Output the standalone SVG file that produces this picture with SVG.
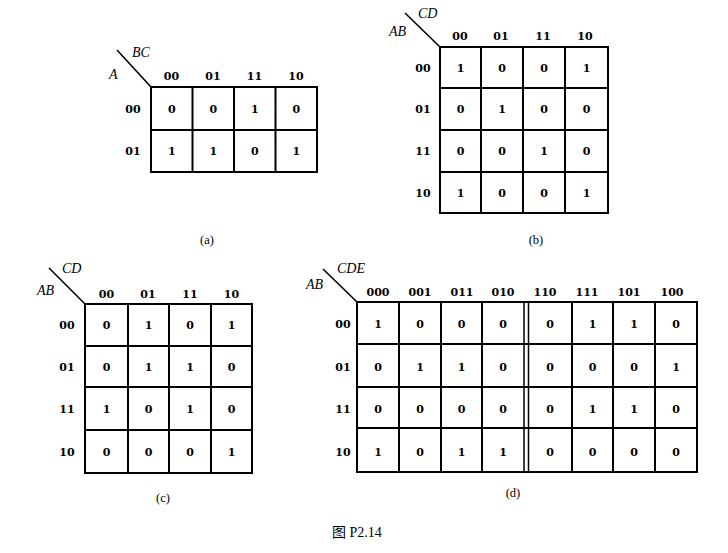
<svg xmlns="http://www.w3.org/2000/svg" width="728" height="553" viewBox="0 0 728 553">
<style>
.bg{fill:#fff}
.g{fill:none;stroke:#000;stroke-width:2}
.d{stroke:#000;stroke-width:1.6}
.dl{stroke:#000;stroke-width:1.5}
.v{font-family:"DejaVu Serif",serif;font-weight:bold;font-size:11px;text-anchor:middle;fill:#000}
.h{font-family:"DejaVu Serif",serif;font-weight:bold;font-size:11px;text-anchor:middle;fill:#000}
.var{font-family:"Liberation Serif",serif;font-style:italic;font-size:14px;fill:#000}
.cap{font-family:"Liberation Serif",serif;font-size:12.5px;text-anchor:middle;fill:#000}
.fig{font-family:"Liberation Serif","Noto Sans CJK SC",serif;font-size:14px;fill:#000}
</style>
<rect class="bg" x="0" y="0" width="728" height="553"/>

<g id="connectors">
<line class="d" x1="117" y1="50" x2="151" y2="87"/>
<line class="d" x1="405" y1="13" x2="440" y2="47"/>
<line class="d" x1="49" y1="268" x2="85" y2="304"/>
<line class="d" x1="323" y1="269" x2="357" y2="302"/>
</g>

<g id="map-a">
<rect class="g" x="151" y="87" width="166" height="85"/>
<path class="g" d="M192.5 87V172M234 87V172M275.5 87V172M151 130H317"/>
<text class="var" x="132" y="57">BC</text>
<text class="var" x="109" y="79">A</text>
<text class="h" x="171.5" y="80">00</text><text class="h" x="213" y="80">01</text><text class="h" x="254.5" y="80">11</text><text class="h" x="296" y="80">10</text>
<text class="h" x="133" y="113">00</text><text class="h" x="133" y="155">01</text>
<text class="v" x="171.75" y="113">0</text><text class="v" x="213.25" y="113">0</text><text class="v" x="254.75" y="113">1</text><text class="v" x="296.25" y="113">0</text>
<text class="v" x="171.75" y="155">1</text><text class="v" x="213.25" y="155">1</text><text class="v" x="254.75" y="155">0</text><text class="v" x="296.25" y="155">1</text>
<text class="cap" x="207" y="244">(a)</text>
</g>

<g id="map-b">
<rect class="g" x="440" y="47" width="168" height="166"/>
<path class="g" d="M481 47V213M523 47V213M565 47V213M440 88H608M440 130H608M440 172H608"/>
<text class="var" x="418" y="18">CD</text>
<text class="var" x="389" y="36">AB</text>
<text class="h" x="460" y="40">00</text><text class="h" x="501" y="40">01</text><text class="h" x="543" y="40">11</text><text class="h" x="585" y="40">10</text>
<text class="h" x="423" y="72">00</text><text class="h" x="423" y="113">01</text><text class="h" x="423" y="155">11</text><text class="h" x="423" y="197">10</text>
<text class="v" x="460.5" y="72">1</text><text class="v" x="502" y="72">0</text><text class="v" x="544" y="72">0</text><text class="v" x="586.5" y="72">1</text>
<text class="v" x="460.5" y="113">0</text><text class="v" x="502" y="113">1</text><text class="v" x="544" y="113">0</text><text class="v" x="586.5" y="113">0</text>
<text class="v" x="460.5" y="155">0</text><text class="v" x="502" y="155">0</text><text class="v" x="544" y="155">1</text><text class="v" x="586.5" y="155">0</text>
<text class="v" x="460.5" y="197">1</text><text class="v" x="502" y="197">0</text><text class="v" x="544" y="197">0</text><text class="v" x="586.5" y="197">1</text>
<text class="cap" x="536" y="244">(b)</text>
</g>

<g id="map-c">
<rect class="g" x="85" y="304" width="167" height="169"/>
<path class="g" d="M128 304V473M169 304V473M211 304V473M85 346H252M85 387H252M85 430H252"/>
<text class="var" x="62" y="273">CD</text>
<text class="var" x="37" y="295">AB</text>
<text class="h" x="106.5" y="298">00</text><text class="h" x="148" y="298">01</text><text class="h" x="190" y="298">11</text><text class="h" x="231.5" y="298">10</text>
<text class="h" x="67" y="329">00</text><text class="h" x="67" y="371">01</text><text class="h" x="67" y="413">11</text><text class="h" x="67" y="456">10</text>
<text class="v" x="106.5" y="329">0</text><text class="v" x="148.5" y="329">1</text><text class="v" x="190" y="329">0</text><text class="v" x="231.5" y="329">1</text>
<text class="v" x="106.5" y="371">0</text><text class="v" x="148.5" y="371">1</text><text class="v" x="190" y="371">1</text><text class="v" x="231.5" y="371">0</text>
<text class="v" x="106.5" y="413">1</text><text class="v" x="148.5" y="413">0</text><text class="v" x="190" y="413">1</text><text class="v" x="231.5" y="413">0</text>
<text class="v" x="106.5" y="456">0</text><text class="v" x="148.5" y="456">0</text><text class="v" x="190" y="456">0</text><text class="v" x="231.5" y="456">1</text>
<text class="cap" x="163" y="502">(c)</text>
</g>

<g id="map-d">
<rect class="g" x="357" y="302" width="340" height="170"/>
<path class="g" d="M399 302V472M441 302V472M482 302V472M572 302V472M613 302V472M655 302V472M357 344H697M357 387H697M357 428H697"/>
<path class="dl" d="M524 302V472M528.5 302V472"/>
<text class="var" x="337" y="273">CDE</text>
<text class="var" x="306" y="289">AB</text>
<text class="h" x="378" y="296">000</text><text class="h" x="420" y="296">001</text><text class="h" x="462" y="296">011</text><text class="h" x="503" y="296">010</text>
<text class="h" x="545" y="296">110</text><text class="h" x="587" y="296">111</text><text class="h" x="629" y="296">101</text><text class="h" x="672" y="296">100</text>
<text class="h" x="343" y="328">00</text><text class="h" x="343" y="371">01</text><text class="h" x="343" y="413">11</text><text class="h" x="343" y="456">10</text>
<text class="v" x="378" y="328">1</text><text class="v" x="420" y="328">0</text><text class="v" x="461.5" y="328">0</text><text class="v" x="503" y="328">0</text><text class="v" x="550" y="328">0</text><text class="v" x="592.5" y="328">1</text><text class="v" x="634" y="328">1</text><text class="v" x="676" y="328">0</text>
<text class="v" x="378" y="371">0</text><text class="v" x="420" y="371">1</text><text class="v" x="461.5" y="371">1</text><text class="v" x="503" y="371">0</text><text class="v" x="550" y="371">0</text><text class="v" x="592.5" y="371">0</text><text class="v" x="634" y="371">0</text><text class="v" x="676" y="371">1</text>
<text class="v" x="378" y="413">0</text><text class="v" x="420" y="413">0</text><text class="v" x="461.5" y="413">0</text><text class="v" x="503" y="413">0</text><text class="v" x="550" y="413">0</text><text class="v" x="592.5" y="413">1</text><text class="v" x="634" y="413">1</text><text class="v" x="676" y="413">0</text>
<text class="v" x="378" y="456">1</text><text class="v" x="420" y="456">0</text><text class="v" x="461.5" y="456">1</text><text class="v" x="503" y="456">1</text><text class="v" x="550" y="456">0</text><text class="v" x="592.5" y="456">0</text><text class="v" x="634" y="456">0</text><text class="v" x="676" y="456">0</text>
<text class="cap" x="513" y="497">(d)</text>
</g>

<g id="caption">
<text class="fig" x="332" y="537">图 P2.14</text>
</g>
</svg>
